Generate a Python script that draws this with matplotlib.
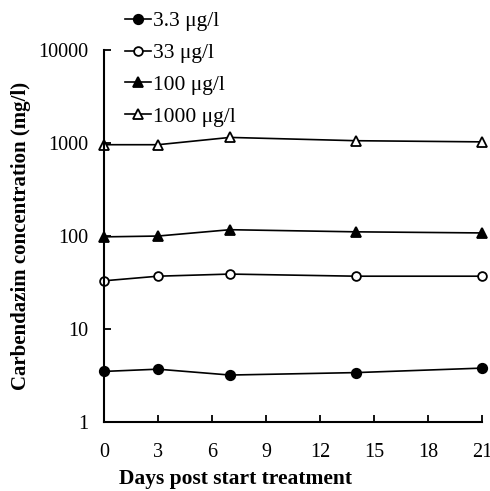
import numpy as np
import matplotlib.pyplot as plt

plt.rcParams['font.family'] = ['Liberation Serif', 'DejaVu Serif']

days = [0, 3, 7, 14, 21]
conc_3_3 = [3.5, 3.7, 3.2, 3.4, 3.8]
conc_33 = [33, 37, 39, 37, 37]
conc_100 = [98, 100, 117, 111, 108]
conc_1000 = [960, 960, 1150, 1060, 1030]
labels = ['3.3 \u03bcg/l', '33 \u03bcg/l', '100 \u03bcg/l', '1000 \u03bcg/l']

fig = plt.figure(figsize=(4.9, 4.91), dpi=100)
ax = fig.add_axes([0.212, 0.1405, 0.772, 0.7575])

# marker, face colour, size
styles = [('o', 'black', 6.8), ('o', 'white', 6.3), ('^', 'black', 7.2), ('^', 'white', 7.2)]
series = [conc_3_3, conc_33, conc_100, conc_1000]
for vals, (m, fc, ms), lab in zip(series, styles, labels):
    ax.plot(days, vals, color='black', lw=1.2, marker=m, markersize=ms,
            markerfacecolor=fc, markeredgecolor='black', markeredgewidth=1.3,
            label=lab, clip_on=False)

ax.set_yscale('log')
ax.set_ylim(1, 10000)
ax.set_xlim(0, 21)
ax.set_xticks(range(0, 22, 3))
ax.set_yticks([1, 10, 100, 1000, 10000])
ax.set_yticklabels(['1', '10', '100', '1000', '10000'])
ax.yaxis.set_minor_locator(plt.NullLocator())
ax.tick_params(direction='in', length=5, width=1.3, labelsize=14.5)
ax.tick_params(axis='y', pad=11.5)
ax.tick_params(axis='x', pad=15)
for s in ['top', 'right']:
    ax.spines[s].set_visible(False)
for s in ['left', 'bottom']:
    ax.spines[s].set_linewidth(1.5)

ax.set_xlabel('Days post start treatment', fontsize=15.5, fontweight='bold')
ax.set_ylabel('Carbendazim concentration (mg/l)', fontsize=15, fontweight='bold')
ax.xaxis.set_label_coords(0.347, -0.125)
ax.yaxis.set_label_coords(-0.192, 0.5)

fig.legend(loc='upper left', bbox_to_anchor=(0.237, 0.995), frameon=False,
           fontsize=15.5, handlelength=1.2, handletextpad=0.1, labelspacing=0.55,
           borderaxespad=0)

fig.savefig('out.png', dpi=100)
